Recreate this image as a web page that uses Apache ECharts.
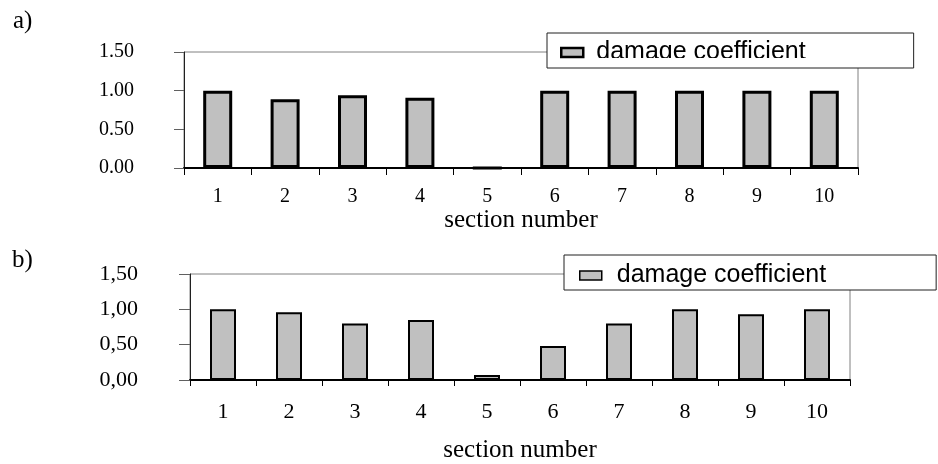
<!DOCTYPE html>
<html>
<head>
<meta charset="utf-8">
<script src="https://cdn.jsdelivr.net/npm/echarts@6/dist/echarts.min.js"></script>
<style>
  html, body { margin: 0; padding: 0; background: #fff; }
  #chart { width: 938px; height: 464px; }
</style>
</head>
<body>
<div id="chart"></div>
<script>
// Section numbers along the beam
const categories = ['1', '2', '3', '4', '5', '6', '7', '8', '9', '10'];
// Damage coefficient per section, variant a)
const damageA = [1.00, 0.89, 0.94, 0.91, 0, 1.00, 1.00, 1.00, 1.00, 1.00];
// Damage coefficient per section, variant b)
const damageB = [1.00, 0.96, 0.80, 0.85, 0.07, 0.48, 0.80, 1.00, 0.93, 1.00];
// Value axis range and step
const yMin = 0, yMax = 1.5, yStep = 0.5;
const seriesName = 'damage coefficient';
const panelLabels = ['a)', 'b)'];
const xTitle = 'section number';

const serif = '"Liberation Serif", "Times New Roman", serif';
const sans = '"Liberation Sans", Arial, sans-serif';

const chart = echarts.init(document.getElementById('chart'), null, { renderer: 'canvas' });

function valueAxis(gridIndex, sep, fontSize, margin, tickLen) {
  return {
    type: 'value', gridIndex, min: yMin, max: yMax, interval: yStep,
    axisLine: { show: true, lineStyle: { color: '#202020', width: 1 } },
    axisTick: { show: true, length: tickLen, lineStyle: { color: '#606060' } },
    splitLine: { show: false },
    axisLabel: {
      margin, color: '#000', fontFamily: serif, fontSize,
      formatter: v => v.toFixed(2).replace('.', sep)
    }
  };
}

function categoryAxis(gridIndex, fontSize, margin, tickLen, nameGap) {
  return {
    type: 'category', gridIndex, data: categories, boundaryGap: true,
    axisLine: { show: true, lineStyle: { color: '#000', width: 2 } },
    axisTick: { show: true, length: tickLen, alignWithLabel: false, lineStyle: { color: '#000' } },
    axisLabel: { margin, color: '#000', fontFamily: serif, fontSize },
    name: xTitle, nameLocation: 'middle', nameGap,
    nameTextStyle: { color: '#000', fontFamily: serif, fontSize: 25 }
  };
}

function legendBox(left, top, pad, textPad, borderW) {
  return {
    data: [seriesName], left, top, orient: 'horizontal',
    padding: pad, itemWidth: 22, itemHeight: 9, icon: 'rect',
    backgroundColor: '#fff', borderColor: '#202020', borderWidth: 1,
    itemStyle: { color: '#c0c0c0', borderColor: '#000', borderWidth: borderW },
    selectedMode: false,
    formatter: '{t|{name}}',
    textStyle: {
      color: '#000', fontFamily: sans, fontSize: 25,
      rich: { t: { fontFamily: sans, fontSize: 25, padding: [0, 0, 0, textPad] } }
    }
  };
}

chart.setOption({
  animation: false,
  backgroundColor: '#fff',
  title: [
    { text: panelLabels[0], left: 8, top: 4, textStyle: { fontFamily: serif, fontSize: 25, fontWeight: 'normal', color: '#000' } },
    { text: panelLabels[1], left: 7, top: 243, textStyle: { fontFamily: serif, fontSize: 25, fontWeight: 'normal', color: '#000' } }
  ],
  grid: [
    { left: 184, right: 80, top: 52, height: 116, show: true, borderColor: '#808080', borderWidth: 1 },
    { left: 190, right: 88, top: 274, height: 110, show: true, borderColor: '#808080', borderWidth: 1 }
  ],
  xAxis: [
    categoryAxis(0, 20, 19, 7, 35),
    categoryAxis(1, 22, 21, 6, 58)
  ],
  yAxis: [
    valueAxis(0, '.', 20, 50, 10),
    valueAxis(1, ',', 22, 52, 11)
  ],
  legend: [
    legendBox(547, 33, [7, 108, 3, 13], 8, 2.5),
    legendBox(564, 255, [8, 110, 2, 15], 10, 1.5)
  ],
  // The upper legend's caption sits in a box too short for it: its lower edge is cut off
  graphic: [
    { type: 'rect', left: 592, top: 58, shape: { width: 230, height: 9 }, style: { fill: '#fff' }, z: 100 }
  ],
  series: [
    {
      name: seriesName, type: 'bar', xAxisIndex: 0, yAxisIndex: 0, data: damageA,
      barWidth: 29,
      itemStyle: { color: '#c0c0c0', borderColor: '#000', borderWidth: 3 }
    },
    {
      name: seriesName, type: 'bar', xAxisIndex: 1, yAxisIndex: 1, data: damageB,
      barWidth: 26,
      itemStyle: { color: '#c0c0c0', borderColor: '#000', borderWidth: 2 }
    }
  ]
});
</script>
</body>
</html>
